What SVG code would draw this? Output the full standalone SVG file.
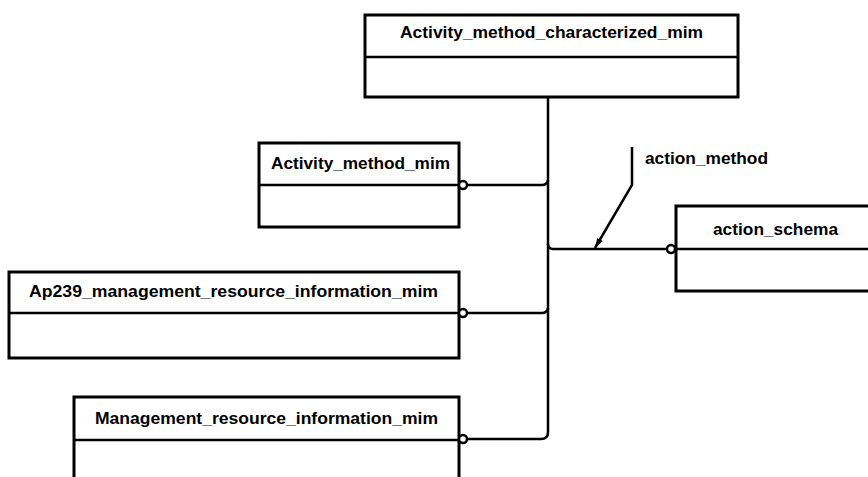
<svg xmlns="http://www.w3.org/2000/svg" width="868" height="477" viewBox="0 0 868 477">
  <defs>
    <style>
      .box { fill: #ffffff; stroke: #000000; stroke-width: 3; }
      .div { stroke: #000000; stroke-width: 2.5; fill: none; }
      .lbl { font-family: "Liberation Sans", Arial, sans-serif; font-weight: bold; font-size: 16px; fill: #000000; }
      .conn { fill: none; stroke: #000000; stroke-width: 2.5; }
      .end { fill: #ffffff; stroke: #000000; stroke-width: 2.5; }
    </style>
    <marker id="arrow" viewBox="0 0 10 10" refX="9" refY="5" markerWidth="4.4" markerHeight="4.4" orient="auto" markerUnits="strokeWidth">
      <path d="M0,2.2 L10,5 L0,7.8 Z" fill="#000000"/>
    </marker>
  </defs>
  <rect width="868" height="477" fill="#ffffff"/>

  <g id="connectors">
    <path class="conn" d="M548,97 V432 Q548,439 541,439 H467"/>
    <path class="conn" d="M467,185 H542 Q547,185 548,180"/>
    <path class="conn" d="M467,313 H542 Q547,313 548,308"/>
    <path class="conn" d="M548,244 Q548,249 553,249 H666"/>
    <path class="conn" d="M632,147 V185 L595,248" marker-end="url(#arrow)"/>
    <text class="lbl" x="645" y="164" textLength="123" lengthAdjust="spacingAndGlyphs">action_method</text>
  </g>

  <g id="node-activity-method-characterized">
    <rect class="box" x="365" y="15" width="373" height="82"/>
    <line class="div" x1="365" y1="57" x2="738" y2="57"/>
    <text class="lbl" x="400" y="38" textLength="303" lengthAdjust="spacingAndGlyphs">Activity_method_characterized_mim</text>
  </g>

  <g id="node-activity-method">
    <rect class="box" x="259" y="143" width="200" height="84"/>
    <line class="div" x1="259" y1="185" x2="459" y2="185"/>
    <text class="lbl" x="271" y="169" textLength="179" lengthAdjust="spacingAndGlyphs">Activity_method_mim</text>
    <circle class="end" cx="463" cy="185" r="4"/>
  </g>

  <g id="node-action-schema">
    <rect class="box" x="676" y="206" width="200" height="85"/>
    <line class="div" x1="676" y1="249" x2="876" y2="249"/>
    <text class="lbl" x="713" y="235" textLength="125" lengthAdjust="spacingAndGlyphs">action_schema</text>
    <circle class="end" cx="671" cy="249" r="4"/>
  </g>

  <g id="node-ap239">
    <rect class="box" x="9" y="272" width="450" height="86"/>
    <line class="div" x1="9" y1="313" x2="459" y2="313"/>
    <text class="lbl" x="29" y="297" textLength="409" lengthAdjust="spacingAndGlyphs">Ap239_management_resource_information_mim</text>
    <circle class="end" cx="463" cy="313" r="4"/>
  </g>

  <g id="node-management-resource">
    <rect class="box" x="74" y="397" width="385" height="100"/>
    <line class="div" x1="74" y1="440" x2="459" y2="440"/>
    <text class="lbl" x="95" y="424" textLength="343" lengthAdjust="spacingAndGlyphs">Management_resource_information_mim</text>
    <circle class="end" cx="463" cy="439" r="4"/>
  </g>
</svg>
